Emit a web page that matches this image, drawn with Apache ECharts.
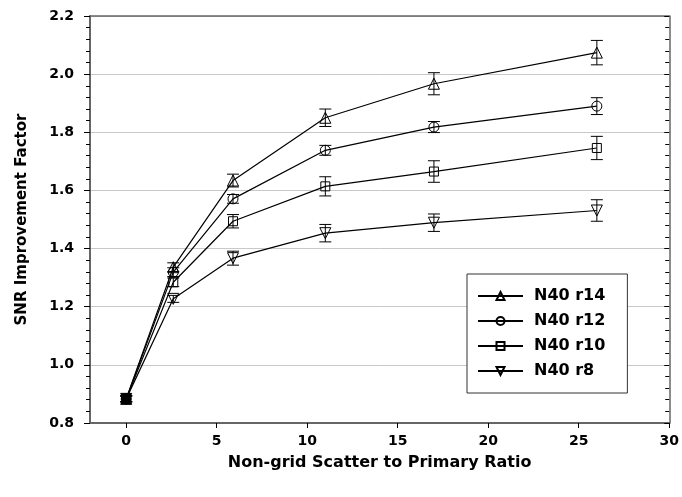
<!DOCTYPE html>
<html>
<head>
<meta charset="utf-8">
<script src="https://cdn.jsdelivr.net/npm/echarts@6/dist/echarts.min.js"></script>
<style>html,body{margin:0;padding:0;background:#fff}#c{width:682px;height:497px}</style>
</head>
<body>
<div id="c"></div>
<script>
var xs = [0, 2.6, 5.9, 11, 17, 26];
var names = ['N40 r14', 'N40 r12', 'N40 r10', 'N40 r8'];
var r14 = [0.883, 1.336, 1.634, 1.850, 1.967, 2.074];
var r14Err = [0.01, 0.015, 0.022, 0.030, 0.038, 0.042];
var r12 = [0.883, 1.319, 1.571, 1.738, 1.818, 1.890];
var r12Err = [0.01, 0.015, 0.015, 0.017, 0.019, 0.029];
var r10 = [0.883, 1.284, 1.494, 1.614, 1.665, 1.746];
var r10Err = [0.01, 0.015, 0.023, 0.033, 0.037, 0.040];
var r8 = [0.883, 1.227, 1.367, 1.453, 1.489, 1.531];
var r8Err = [0.01, 0.012, 0.024, 0.030, 0.030, 0.037];
var yTicks = [0.8, 1.0, 1.2, 1.4, 1.6, 1.8, 2.0, 2.2];
var xTicks = [0, 5, 10, 15, 20, 25, 30];

var seriesVals = [r14, r12, r10, r8];
var seriesErrs = [r14Err, r12Err, r10Err, r8Err];
var symbols = ['triangle', 'circle', 'rect', 'triangle'];
var symSizes = [11, 10, 9, 11];
var symRot = [0, 0, 0, 180];
var FONT = 'DejaVu Sans';

var series = [];
seriesVals.forEach(function (vals, si) {
  var errData = xs.map(function (x, i) { return [x, vals[i] - seriesErrs[si][i], vals[i] + seriesErrs[si][i]]; });
  series.push({
    type: 'custom',
    name: names[si] + ' err',
    data: errData,
    z: 2,
    silent: true,
    encode: { x: 0, y: [1, 2] },
    renderItem: function (params, api) {
      var lo = api.coord([api.value(0), api.value(1)]);
      var hi = api.coord([api.value(0), api.value(2)]);
      var w = 6;
      var st = { stroke: '#000', lineWidth: 1 };
      return {
        type: 'group',
        children: [
          { type: 'line', shape: { x1: lo[0], y1: lo[1], x2: hi[0], y2: hi[1] }, style: st },
          { type: 'line', shape: { x1: lo[0] - w, y1: lo[1], x2: lo[0] + w, y2: lo[1] }, style: st },
          { type: 'line', shape: { x1: hi[0] - w, y1: hi[1], x2: hi[0] + w, y2: hi[1] }, style: st }
        ]
      };
    }
  });
});
seriesVals.forEach(function (vals, si) {
  series.push({
    type: 'line',
    name: names[si],
    data: xs.map(function (x, i) {
      var d = { value: [x, vals[i]] };
      if (i === 0) d.itemStyle = { color: '#000' };
      return d;
    }),
    symbol: symbols[si],
    symbolSize: symSizes[si],
    symbolRotate: symRot[si],
    showAllSymbol: true,
    z: 3,
    color: '#000',
    lineStyle: { color: '#000', width: 1.2 },
    itemStyle: { color: 'rgba(255,255,255,0)', borderColor: '#000', borderWidth: 1 },
    emphasis: { disabled: true },
    animation: false
  });
});

var chart = echarts.init(document.getElementById('c'), null, { renderer: 'canvas' });
chart.setOption({
  animation: false,
  backgroundColor: '#fff',
  grid: { left: 90, right: 11, top: 16, bottom: 74, containLabel: false },
  legend: {
    data: names,
    orient: 'vertical',
    left: 467,
    top: 274,
    backgroundColor: '#fff',
    borderColor: '#333',
    borderWidth: 1,
    padding: [14, 22, 14, 10],
    itemWidth: 45,
    itemHeight: 10,
    itemGap: 9,
    textStyle: { fontFamily: FONT, fontWeight: 'bold', fontSize: 16, color: '#000', padding: [0, 0, 0, 6] }
  },
  xAxis: [{
    type: 'value', min: -2, max: 30,
    position: 'bottom',
    axisLine: { show: true, onZero: false, lineStyle: { color: '#666', width: 2 } },
    axisTick: { show: true, length: 5, inside: false, lineStyle: { color: '#000' }, customValues: xTicks },
    axisLabel: { margin: 11, fontFamily: FONT, fontWeight: 'bold', fontSize: 14, color: '#000', customValues: xTicks },
    splitLine: { show: false },
    name: 'Non-grid Scatter to Primary Ratio',
    nameLocation: 'middle',
    nameGap: 32,
    nameTextStyle: { fontFamily: FONT, fontWeight: 'bold', fontSize: 16, color: '#000' }
  }, {
    type: 'value', min: -2, max: 30, position: 'top',
    axisLine: { show: true, onZero: false, lineStyle: { color: '#666', width: 1.5 } },
    axisTick: { show: false }, axisLabel: { show: false }, splitLine: { show: false }
  }],
  yAxis: [{
    type: 'value', min: 0.8, max: 2.2, interval: 0.2,
    position: 'left',
    axisLine: { show: true, onZero: false, lineStyle: { color: '#666', width: 2 } },
    axisTick: { show: true, length: 6, lineStyle: { color: '#000' } },
    minorTick: { show: true, splitNumber: 5, length: 4, lineStyle: { color: '#000' } },
    axisLabel: { margin: 16, fontFamily: FONT, fontWeight: 'bold', fontSize: 14, color: '#000',
      formatter: function (v) { return v.toFixed(1); } },
    splitLine: { show: true, lineStyle: { color: '#c8c8c8', width: 1 } },
    name: 'SNR Improvement Factor',
    nameLocation: 'middle',
    nameGap: 60,
    nameTextStyle: { fontFamily: FONT, fontWeight: 'bold', fontSize: 15, color: '#000' }
  }, {
    type: 'value', min: 0.8, max: 2.2, interval: 0.2,
    position: 'right',
    axisLine: { show: true, onZero: false, lineStyle: { color: '#666', width: 1.5 } },
    axisTick: { show: true, inside: true, length: 5, lineStyle: { color: '#000' } },
    minorTick: { show: true, splitNumber: 5, length: 4, lineStyle: { color: '#000' } },
    axisLabel: { show: false },
    splitLine: { show: false }
  }],
  series: series
});
</script>
</body>
</html>
